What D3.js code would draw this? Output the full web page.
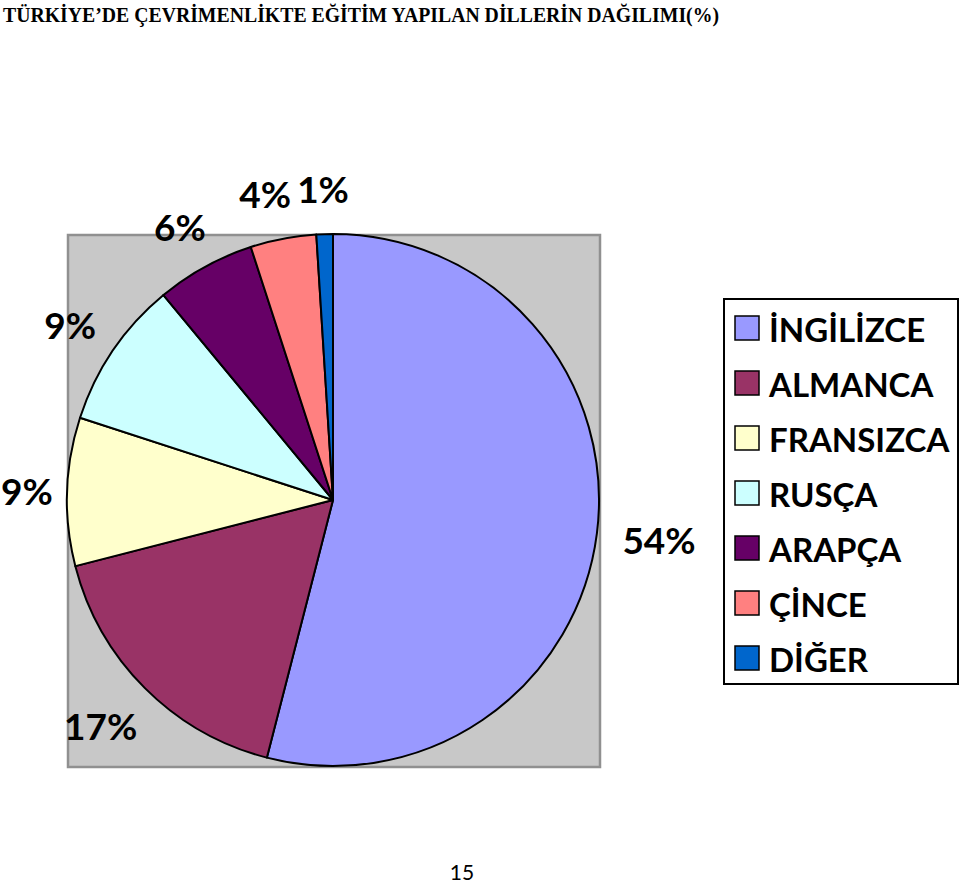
<!DOCTYPE html>
<html><head><meta charset="utf-8">
<script src="https://cdn.jsdelivr.net/npm/d3@7"></script>
<style>body{margin:0;background:#fff}svg{display:block}</style>
</head><body>
<svg id="c" width="960" height="888"></svg>
<script>
const title = "TÜRKİYE’DE ÇEVRİMENLİKTE EĞİTİM YAPILAN DİLLERİN DAĞILIMI(%)";
const categories = ["İNGİLİZCE","ALMANCA","FRANSIZCA","RUSÇA","ARAPÇA","ÇİNCE","DİĞER"];
const values = [54,17,9,9,6,4,1];
const labels = ["54%","17%","9%","9%","6%","4%","1%"];
const colors = ["#9999FF","#993366","#FFFFCC","#CCFFFF","#660066","#FF8080","#0066CC"];
const pageNumber = "15";

const svg = d3.select("#c");
svg.append("text").attr("x",3).attr("y",22)
  .attr("font-family","Liberation Serif, Times New Roman, serif")
  .attr("font-weight","bold").attr("font-size",21)
  .attr("textLength",716).attr("lengthAdjust","spacingAndGlyphs").text(title);

// plot area
svg.append("rect").attr("x",68).attr("y",235).attr("width",532).attr("height",532)
  .attr("fill","#C8C8C8").attr("stroke","#909090").attr("stroke-width",2.5);

const cx=333, cy=500, R=266;
const g = svg.append("g").attr("transform",`translate(${cx},${cy})`);
const pie = d3.pie().sort(null).value(d=>d)(values);
const arc = d3.arc().innerRadius(0).outerRadius(R);
g.selectAll("path").data(pie).join("path")
  .attr("d",arc).attr("fill",(d,i)=>colors[i])
  .attr("stroke","#000").attr("stroke-width",2).attr("stroke-linejoin","round");

// labels
const r0 = 292;
const lab = g.selectAll("text.lab").data(pie).join("text")
  .attr("class","lab")
  .attr("font-family","Lato, Carlito, Calibri, sans-serif")
  .attr("font-weight","bold").attr("font-size",37)
  .attr("text-anchor","middle").attr("dominant-baseline","central")
  .text((d,i)=>labels[i]);
const boxes=[];
lab.each(function(d,i){
  const a=(d.startAngle+d.endAngle)/2;
  const bb=this.getBBox();
  const s=Math.sin(a), c=-Math.cos(a);
  let x=r0*s + bb.width/2*s;
  const y=r0*c + (20+10*Math.max(0,c))*c;
  x=Math.max(x, -cx + bb.width/2 + 1);
  boxes.push({el:this,x,y,w:bb.width});
});
// resolve overlaps between neighbouring labels (push earlier one left)
for(let i=boxes.length-1;i>0;i--){
  const b=boxes[i], p=boxes[i-1];
  if(Math.abs(b.y-p.y)<40){
    const need=(b.x-b.w/2-6)-(p.x+p.w/2);
    if(need<0) p.x+=need;
  }
}
boxes.forEach(b=>d3.select(b.el).attr("x",b.x).attr("y",b.y));

// legend
const lg = svg.append("g");
lg.append("rect").attr("x",724).attr("y",299).attr("width",234).attr("height",385)
  .attr("fill","#fff").attr("stroke","#000").attr("stroke-width",2);
const rows = lg.selectAll("g.row").data(categories).join("g").attr("class","row")
  .attr("transform",(d,i)=>`translate(0,${328+i*55})`);
rows.append("rect").attr("x",735).attr("y",-12).attr("width",24).attr("height",24)
  .attr("fill",(d,i)=>colors[i]).attr("stroke","#000").attr("stroke-width",1.5);
rows.append("text").attr("x",769).attr("y",1).attr("dominant-baseline","central")
  .attr("font-family","Lato, Carlito, Calibri, sans-serif")
  .attr("font-weight","bold").attr("font-size",33).text(d=>d);

svg.append("text").attr("x",462).attr("y",880).attr("text-anchor","middle")
  .attr("font-family","Lato, Carlito, Calibri, sans-serif").attr("font-size",21).text(pageNumber);
</script>
</body></html>
